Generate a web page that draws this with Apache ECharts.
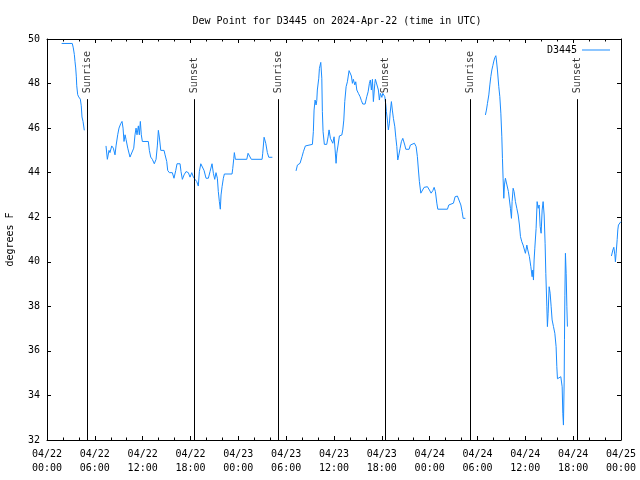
<!DOCTYPE html>
<html><head><meta charset="utf-8">
<script src="https://cdn.jsdelivr.net/npm/echarts@6/dist/echarts.min.js"></script>
<style>html,body{margin:0;padding:0;background:#fff}#c{width:640px;height:480px}</style>
</head><body><div id="c"></div>
<script>
// hours since 2024-04-22 00:00 UTC
const hours = [
 1.84,3.17,3.30,3.43,3.51,3.60,3.68,3.73,3.85,3.98,4.18,4.30,4.39,4.52,4.68,
 6.0,
 7.40,7.57,7.78,7.90,8.12,8.32,8.53,8.66,8.87,9.03,9.25,9.41,9.54,9.66,9.79,9.91,10.13,10.41,10.66,10.88,
 11.04,11.17,11.29,11.46,11.58,11.71,11.83,11.96,12.71,12.84,13.01,13.21,13.46,13.68,13.84,13.97,14.09,14.27,
 14.68,14.81,15.02,15.14,15.35,15.72,15.93,16.15,16.31,16.69,16.81,16.98,17.19,17.44,17.73,17.94,18.16,18.36,
 18.57,18.78,18.98,19.11,19.29,19.54,19.70,19.95,20.24,20.45,20.70,20.87,21.04,21.20,21.37,21.49,21.62,21.74,
 21.83,21.96,22.12,22.25,23.21,23.30,23.43,23.50,23.63,25.06,25.22,25.43,25.63,26.98,27.06,27.23,27.44,27.64,
 27.82,28.27,
 30.0,
 31.24,31.41,31.74,31.99,32.16,32.41,32.58,33.29,33.41,33.50,33.63,33.75,33.84,33.91,34.09,34.17,34.34,34.47,
 34.54,34.63,34.79,35.09,35.26,35.38,35.55,35.72,35.85,36.01,36.14,36.26,36.35,36.51,36.68,36.98,37.10,37.23,
 37.35,37.52,37.68,37.89,38.06,38.18,38.31,38.43,38.61,38.73,38.86,39.06,39.27,39.44,39.61,39.90,40.11,40.28,
 40.44,40.56,40.69,40.82,40.94,41.12,41.19,41.44,41.57,41.69,41.82,42.00,42.12,42.37,42.50,42.57,42.70,42.82,
 42.95,43.04,43.20,43.32,43.45,43.63,43.75,43.88,44.00,44.13,44.29,44.45,44.63,44.76,44.88,45.01,45.42,45.58,
 45.71,46.09,46.30,46.46,46.59,46.71,46.89,47.09,47.30,47.46,47.72,47.97,48.18,48.39,48.56,48.72,48.90,49.02,
 50.23,50.40,50.56,50.98,51.19,51.48,51.73,51.91,52.07,52.20,52.48,
 53.5,
 54.99,55.12,55.25,55.42,55.55,55.67,55.80,55.92,56.05,56.17,56.30,56.37,56.50,56.67,56.80,56.93,57.05,57.13,
 57.21,57.30,57.38,57.50,57.75,57.88,58.00,58.13,58.26,58.34,58.47,58.59,58.76,58.93,59.10,59.26,59.39,59.56,
 59.72,59.85,60.01,60.19,60.31,60.51,60.69,60.85,60.94,61.02,61.10,61.19,61.35,61.48,61.61,61.73,61.86,61.98,
 62.11,62.23,62.36,62.48,62.57,62.70,62.77,62.86,62.99,63.11,63.24,63.36,63.53,63.70,63.86,63.95,64.03,64.28,
 64.45,64.53,64.62,64.70,64.78,64.87,64.91,64.96,65.03,65.12,65.21,65.28,
 68.0,
 70.80,70.98,71.10,71.23,71.30,71.39,71.52,71.60,71.68,71.86,71.98
];
const dewF = [
 49.8,49.8,49.6,49.3,49.0,48.7,48.3,47.9,47.5,47.4,47.3,47.0,46.5,46.3,45.9,
 null,
 45.2,44.6,45.0,44.9,45.2,45.1,44.8,45.2,45.7,46.0,46.2,46.3,46.0,45.4,45.7,45.5,45.1,44.7,44.7,45.1,
 45.7,46.0,45.7,46.1,45.7,46.3,45.7,45.4,45.4,45.0,44.7,44.6,44.4,44.6,45.2,45.9,45.6,45.0,
 45.0,44.8,44.5,44.1,44.0,44.0,43.75,44.1,44.4,44.4,44.05,43.7,43.9,44.05,44.0,43.8,44.0,43.8,
 43.7,43.6,43.4,44.05,44.4,44.4,44.1,43.75,43.75,44.05,44.4,43.97,43.7,44.0,43.75,43.15,42.7,42.36,
 43.0,43.37,43.75,43.94,43.94,44.19,44.64,44.9,44.6,44.6,44.87,44.9,44.6,44.6,44.87,45.59,45.32,44.9,
 44.69,44.69,
 null,
 44.08,44.34,44.42,44.72,44.94,45.2,45.27,45.27,45.84,46.81,47.26,47.04,47.23,47.71,48.24,48.68,48.95,48.24,
 46.74,45.84,45.27,45.27,45.61,45.92,45.54,45.61,45.32,45.61,45.02,44.42,44.87,45.24,45.65,45.69,45.92,46.36,
 47.19,47.86,48.08,48.58,48.53,48.34,48.01,48.19,47.94,48.08,47.71,47.56,47.41,47.23,47.08,47.08,47.41,47.63,
 48.01,48.16,47.71,48.19,47.19,48.01,48.19,48.19,47.71,47.26,47.56,47.38,47.56,47.41,47.04,46.74,46.36,45.92,
 46.22,46.67,47.19,46.81,46.44,46.06,45.59,45.17,44.57,44.79,45.09,45.39,45.54,45.59,45.24,45.05,45.05,45.24,
 45.32,45.32,45.17,44.72,44.12,43.6,43.08,43.08,43.34,43.4,43.37,43.22,43.08,43.19,43.34,43.15,42.63,42.36,
 42.36,42.55,42.63,42.63,42.92,42.95,42.92,42.55,42.25,41.95,41.95,
 null,
 46.59,46.81,47.11,47.49,47.94,48.31,48.61,48.8,49.01,49.16,49.25,49.06,48.61,47.86,47.41,46.67,45.61,44.64,
 43.75,42.85,43.45,43.75,43.75,43.15,43.08,42.4,41.95,42.7,43.3,43.15,42.7,42.4,42.1,41.65,41.13,40.9,
 40.75,40.75,40.38,40.75,40.53,40.23,39.78,39.33,39.63,39.18,40.08,40.61,41.5,42.7,42.4,42.55,41.58,41.28,
 42.32,42.7,42.1,40.83,39.48,37.98,37.09,37.69,38.88,38.59,37.98,37.39,37.09,36.79,36.19,35.29,34.75,34.75,
 34.84,34.92,34.39,33.2,32.67,34.6,36.5,38.5,40.38,39.48,37.98,37.09,
 null,
 40.26,40.53,40.65,40.31,40.0,40.38,41.0,41.43,41.65,41.73,41.8
];
const tickLabels = ['04/22\n00:00','04/22\n06:00','04/22\n12:00','04/22\n18:00','04/23\n00:00','04/23\n06:00',
 '04/23\n12:00','04/23\n18:00','04/24\n00:00','04/24\n06:00','04/24\n12:00','04/24\n18:00','04/25\n00:00'];
const eventHours = [5.05, 18.48, 29.0, 42.45, 53.1, 66.5];
const eventNames = ['Sunrise','Sunset','Sunrise','Sunset','Sunrise','Sunset'];
const eventLineTop = 47.3;
const seriesName = 'D3445';

const FONT = 'DejaVu Sans Mono';
const chart = echarts.init(document.getElementById('c'), null, {renderer:'canvas'});
const lineData = hours.map((h,i)=>[h, dewF[i]]);
const xCommon = {
  type:'value', min:0, max:72, interval:6,
  axisLine:{show:true, onZero:false, lineStyle:{color:'#000', width:1}},
  axisTick:{show:true, inside:true, length:4, lineStyle:{color:'#000'}},
  minorTick:{show:true, splitNumber:3, length:2.5, lineStyle:{color:'#000'}},
  splitLine:{show:false}
};
const yCommon = {
  type:'value', min:32, max:50, interval:2,
  axisLine:{show:true, onZero:false, lineStyle:{color:'#000', width:1}},
  axisTick:{show:true, inside:true, length:4, lineStyle:{color:'#000'}},
  splitLine:{show:false}
};
chart.setOption({
  animation:false,
  backgroundColor:'#fff',
  title:{text:'Dew Point for D3445 on 2024-Apr-22 (time in UTC)', left:332, top:11, textAlign:'center',
    textStyle:{fontFamily:FONT, fontSize:10, fontWeight:'normal', color:'#000'}},
  legend:{show:true, right:30, top:45, padding:0, align:'right', itemWidth:28, itemHeight:1, icon:'rect',
    textStyle:{fontFamily:FONT, fontSize:10, color:'#000'},
    data:[{name:seriesName, icon:'rect', itemStyle:{color:'#1a8cff'}}]},
  grid:{left:47, right:19, top:39, bottom:40, containLabel:false, outerBoundsMode:'none'},
  xAxis:[
    Object.assign({}, xCommon, {position:'bottom',
      axisLabel:{show:true, margin:7, fontFamily:FONT, fontSize:10, color:'#000', lineHeight:14,
        formatter:(v)=>tickLabels[Math.round(v/6)] ?? ''}}),
    Object.assign({}, xCommon, {position:'top', axisLabel:{show:false}})
  ],
  yAxis:[
    Object.assign({}, yCommon, {position:'left',
      name:'degrees F', nameLocation:'middle', nameGap:32, nameRotate:90,
      nameTextStyle:{fontFamily:FONT, fontSize:10, color:'#000'},
      axisLabel:{show:true, margin:7, fontFamily:FONT, fontSize:10, color:'#000'}}),
    Object.assign({}, yCommon, {position:'right', axisLabel:{show:false}})
  ],
  series:[
    {
      name:seriesName, type:'line', xAxisIndex:0, yAxisIndex:0,
      data:lineData, showSymbol:false, symbol:'none', connectNulls:false,
      lineStyle:{color:'#1a8cff', width:1}, itemStyle:{color:'#1a8cff'},
      z:3
    },
    {
      name:'events', type:'scatter', xAxisIndex:0, yAxisIndex:0,
      data:eventHours.map((h,i)=>({value:[h, eventLineTop], name:eventNames[i]})),
      symbolSize:0, silent:true,
      label:{show:true, formatter:(p)=>p.name, position:'top', distance:6, rotate:90,
        align:'left', verticalAlign:'middle',
        fontFamily:FONT, fontSize:10, color:'#000'},
      markLine:{silent:true, symbol:['none','none'],
        lineStyle:{color:'#000', width:1, type:'solid'},
        label:{show:false},
        data:eventHours.map(h=>[{coord:[h,32]},{coord:[h,eventLineTop]}])},
      z:2
    }
  ]
});
</script>
</body></html>
